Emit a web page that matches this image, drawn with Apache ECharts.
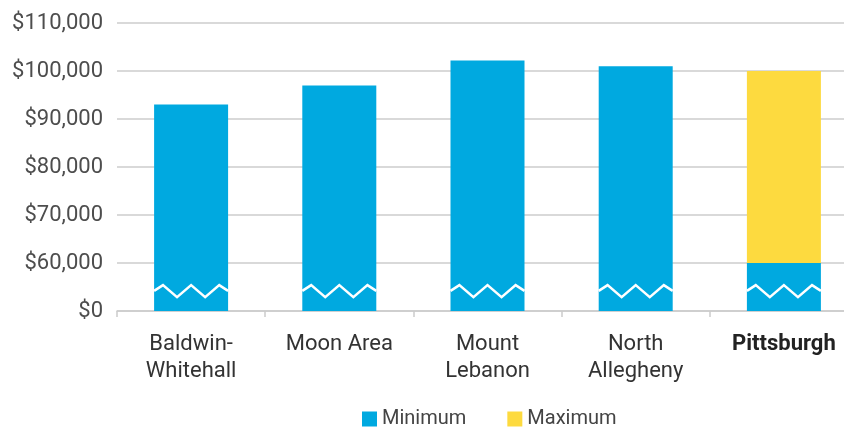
<!DOCTYPE html>
<html>
<head>
<meta charset="utf-8">
<script src="https://cdn.jsdelivr.net/npm/echarts@6/dist/echarts.min.js"></script>
<style>
  html, body { margin: 0; padding: 0; background: #fff; }
  #chart { width: 844px; height: 427px; }
</style>
</head>
<body>
<div id="chart"></div>
<script>
// data
const districts = ['Baldwin-\nWhitehall', 'Moon Area', 'Mount\nLebanon', 'North\nAllegheny', 'Pittsburgh'];
const minimum = [93000, 97000, 102200, 101000, 60000];
const maximum = [null, null, null, null, 100000];
const yTicks = [50000, 60000, 70000, 80000, 90000, 100000, 110000]; // 50000 is drawn as "$0" (broken axis)

const BLUE = '#00A9E0';
const YELLOW = '#FDDA3F';

let chart = echarts.init(document.getElementById('chart'));

// maximum is stacked on top of minimum
let maxStacked = maximum.map((v, i) => v == null ? null : v - minimum[i]);

// white zigzag that marks the axis break, one per bar
let zig = [[-0.5, 54200], [-0.38, 55400], [-0.19, 52900], [0, 55400], [0.19, 52900], [0.38, 55400], [0.5, 54200]];
function renderBreak(params, api) {
  let idx = api.value(0);
  let w = 74;
  let pts = zig.map(p => {
    let c = api.coord([idx, p[1]]);
    return [c[0] + p[0] * w, c[1]];
  });
  return {
    type: 'polyline',
    shape: { points: pts },
    style: { stroke: '#fff', lineWidth: 2.5, fill: null },
    z2: 10
  };
}

let option = {
  backgroundColor: '#fff',
  animation: false,
  textStyle: { fontFamily: 'Roboto' },
  grid: { left: 117, width: 741, top: 23, height: 288, outerBoundsMode: 'none', containLabel: false },
  legend: {
    top: 404,
    left: 357,
    data: ['Minimum', 'Maximum'],
    icon: 'rect',
    itemWidth: 15,
    itemHeight: 15,
    itemGap: 41,
    textStyle: { fontSize: 20, color: '#444', fontFamily: 'Roboto' }
  },
  xAxis: {
    type: 'category',
    data: districts,
    axisLine: { lineStyle: { color: '#cccccc', width: 1.5 } },
    axisTick: { show: true, length: 6, lineStyle: { color: '#cccccc', width: 1.5 } },
    axisLabel: {
      fontSize: 22,
      color: '#333',
      lineHeight: 27,
      margin: 20,
      interval: 0,
      formatter: function (v) {
        return v == 'Pittsburgh' ? '{b|' + v + '}' : v;
      },
      rich: {
        b: { fontWeight: 'bold', fontSize: 22, color: '#222', fontFamily: 'Roboto' }
      }
    }
  },
  yAxis: {
    type: 'value',
    min: 50000,
    max: 110000,
    interval: 10000,
    axisLine: { show: false },
    axisTick: { show: false },
    splitLine: { lineStyle: { color: '#d9d9d9', width: 2 } },
    axisLabel: {
      fontSize: 22,
      color: '#4d4d4d',
      margin: 14,
      formatter: function (v) {
        if (yTicks.indexOf(v) < 0) return '';
        return v == 50000 ? '$0' : '$' + v.toLocaleString('en-US');
      }
    }
  },
  series: [
    {
      name: 'Minimum',
      type: 'bar',
      stack: 'salary',
      barWidth: 74,
      itemStyle: { color: BLUE },
      data: minimum
    },
    {
      name: 'Maximum',
      type: 'bar',
      stack: 'salary',
      barWidth: 74,
      itemStyle: { color: YELLOW },
      data: maxStacked
    },
    {
      type: 'custom',
      renderItem: renderBreak,
      silent: true,
      z: 5,
      data: districts.map((d, i) => [i])
    }
  ]
};

chart.setOption(option);
</script>
</body>
</html>
